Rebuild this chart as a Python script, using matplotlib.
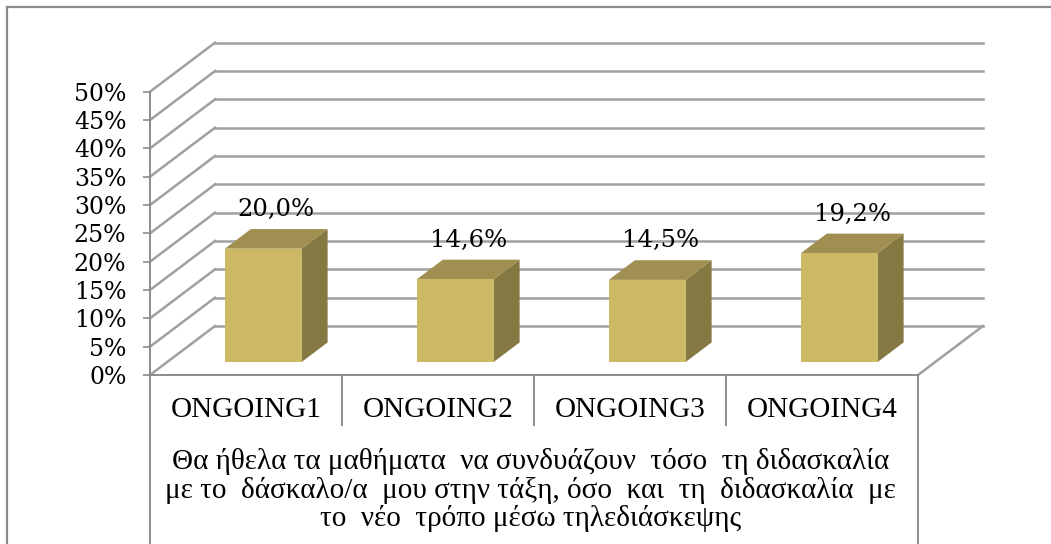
import matplotlib
matplotlib.use("Agg")
import matplotlib.pyplot as plt
from matplotlib.patches import Polygon
from matplotlib.lines import Line2D

# data
categories = ["ONGOING1", "ONGOING2", "ONGOING3", "ONGOING4"]
values = [20.0, 14.6, 14.5, 19.2]
value_labels = ["20,0%", "14,6%", "14,5%", "19,2%"]
yticks = [0, 5, 10, 15, 20, 25, 30, 35, 40, 45, 50]
question = ("Θα ήθελα τα μαθήματα  να συνδυάζουν  τόσο  τη διδασκαλία\n"
            "με το  δάσκαλο/α  μου στην τάξη, όσο  και  τη  διδασκαλία  με\n"
            "το  νέο  τρόπο μέσω τηλεδιάσκεψης")

W, H = 1051, 544
fig = plt.figure(figsize=(W / 100, H / 100), dpi=100)
fig.patch.set_facecolor("white")

# front plane of the 3d box
ax = fig.add_axes([150 / W, (H - 375) / H, 768 / W, 283.3 / H])
ax.set_xlim(0, len(categories))
ax.set_ylim(0, 50)
ax.patch.set_alpha(0)

# depth of the box (category units, percent units)
DX = 65 / 192
DY = 49 / 5.666
f0 = 0.265   # front face of bars, fraction of depth
fd = 0.40    # bar depth, fraction of depth
bw = 0.40

grid_c = "#a0a0a0"
axis_c = "#8c8c8c"
n = len(categories)

# side wall + back wall grid
for v in yticks:
    ax.plot([0, DX], [v, v + DY], color=grid_c, lw=1.8, clip_on=False, zorder=1)
    ax.plot([DX, n + DX], [v + DY, v + DY], color=grid_c, lw=1.8, clip_on=False, zorder=1)
# floor right edge
ax.plot([n, n + DX], [0, DY], color=grid_c, lw=1.8, clip_on=False, zorder=1)

front_c = "#cdb866"
top_c = "#a08f50"
side_c = "#847843"
bx, by = fd * DX, fd * DY
for i, v in enumerate(values):
    x0 = i + 0.5 - bw / 2 + f0 * DX
    x1 = x0 + bw
    y0 = f0 * DY
    y1 = y0 + v
    ax.add_patch(Polygon([(x1, y0), (x1 + bx, y0 + by), (x1 + bx, y1 + by), (x1, y1)],
                         closed=True, fc=side_c, ec="none", clip_on=False, zorder=3))
    ax.add_patch(Polygon([(x0, y1), (x1, y1), (x1 + bx, y1 + by), (x0 + bx, y1 + by)],
                         closed=True, fc=top_c, ec="none", clip_on=False, zorder=3))
    ax.add_patch(Polygon([(x0, y0), (x1, y0), (x1, y1), (x0, y1)],
                         closed=True, fc=front_c, ec="none", clip_on=False, zorder=4))
    ax.annotate(value_labels[i], xy=((x0 + x1) / 2 + bx / 2, y1 + by / 2),
                xytext=(0, 21), textcoords="offset points", ha="center", va="center",
                fontsize=17.5, family="DejaVu Serif", color="black", annotation_clip=False)

# axes styling
for s in ["top", "right"]:
    ax.spines[s].set_visible(False)
for s in ["left", "bottom"]:
    ax.spines[s].set_color(axis_c)
    ax.spines[s].set_linewidth(1.4)
ax.set_xticks([])
ax.set_yticks(yticks)
ax.set_yticklabels([f"{v}%" for v in yticks], fontsize=17, family="DejaVu Serif")
ax.tick_params(axis="y", direction="out", length=5, width=1.2, color=axis_c, pad=12)

# category table under the floor
tb = -29.8   # bottom of the picture in percent units
ax.plot([0, 0], [0, tb], color=axis_c, lw=1.4, clip_on=False)
ax.plot([n, n], [0, tb], color=axis_c, lw=1.4, clip_on=False)
for i in range(1, n):
    ax.plot([i, i], [0, -8.8], color=axis_c, lw=1.4, clip_on=False)
for i, c in enumerate(categories):
    ax.text(i + 0.5, -6.1, c, ha="center", va="center", fontsize=21,
            family="Liberation Serif", clip_on=False)
ax.text(n / 2 - 0.02, -20.3, question, ha="center", va="center", fontsize=21,
        family="Liberation Serif", linespacing=1.05, clip_on=False)

# outer frame (left and top only visible)
fig.add_artist(Line2D([6.5 / W, 6.5 / W], [0, 1 - 6.5 / H], color="#8a8a8a", lw=1.6,
                      transform=fig.transFigure))
fig.add_artist(Line2D([6.5 / W, 1], [1 - 6.5 / H, 1 - 6.5 / H], color="#8a8a8a", lw=1.6,
                      transform=fig.transFigure))

fig.savefig("out.png", dpi=100, facecolor="white")
